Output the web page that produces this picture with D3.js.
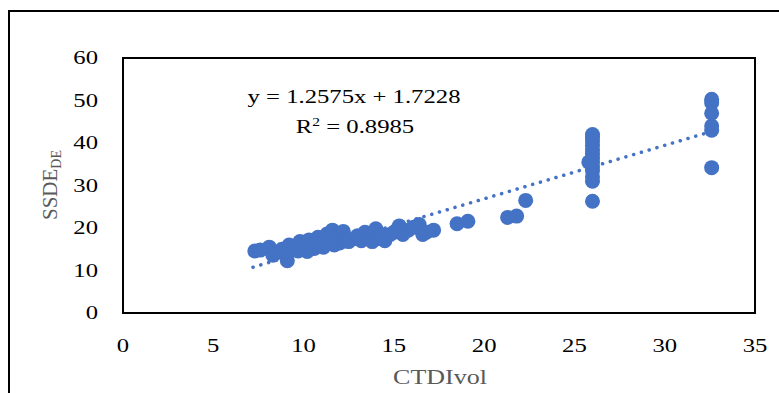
<!DOCTYPE html>
<html>
<head>
<meta charset="utf-8">
<script src="https://cdn.jsdelivr.net/npm/d3@7"></script>
<style>
  body { margin: 0; background: #fff; }
  text { font-family: "Liberation Serif", "DejaVu Serif", serif; }
</style>
</head>
<body>
<div id="chart"></div>
<script>
(function () {
	// data
	var ctdi = [
		7.3, 7.6, 8.1, 8.3, 8.5, 8.8, 9.1, 9.1, 9.2, 9.5, 9.7, 9.8, 10.0, 10.2, 10.3, 10.5,
		10.6, 10.8, 11.0, 11.1, 11.3, 11.4, 11.6, 11.7, 11.9, 12.0, 12.2, 12.3, 12.5, 12.8,
		13.0, 13.2, 13.4, 13.6, 13.8, 14.0, 14.1, 14.3, 14.5, 14.8, 15.0, 15.3, 15.5, 15.8,
		16.1, 16.4, 16.6, 16.8, 17.2,
		18.5, 19.1, 21.3, 21.8, 22.3,
		26.0, 26.0, 26.0, 26.0, 26.0, 26.0, 26.0, 26.0, 26.0, 26.0, 26.0, 26.0, 26.0, 25.8,
		32.6, 32.6, 32.6, 32.6, 32.6, 32.6
	];
	var ssde = [
		14.6, 14.8, 15.5, 13.6, 14.2, 15.0, 12.3, 14.0, 16.0, 15.2, 14.6, 16.8, 15.5, 14.5, 17.2, 16.0,
		15.2, 17.8, 16.3, 15.5, 18.6, 17.0, 19.5, 16.0, 18.0, 16.5, 19.2, 17.2, 16.8, 17.5,
		18.2, 17.0, 19.0, 17.8, 16.8, 19.8, 17.5, 18.5, 17.0, 18.5, 19.0, 20.5, 18.5, 19.5,
		20.2, 20.8, 18.5, 19.0, 19.5,
		21.0, 21.6, 22.5, 22.8, 26.5,
		26.3, 31.0, 32.0, 33.5, 34.5, 35.5, 36.5, 37.5, 38.5, 39.5, 40.5, 41.3, 42.0, 35.5,
		34.2, 43.0, 44.0, 47.0, 49.5, 50.3
	];
	var xTicks = [0, 5, 10, 15, 20, 25, 30, 35];
	var yTicks = [0, 10, 20, 30, 40, 50, 60];
	var slope = 1.2575, intercept = 1.7228, r2 = 0.8985;
	var trendRange = [7.2, 32.6];

	var width = 779, height = 393;
	var blue = '#4472C4';
	var stretch = 1.3; // text in the picture is drawn wide

	var svg = d3.select('#chart').append('svg')
		.attr('width', width).attr('height', height);

	// outer chart frame
	svg.append('rect')
		.attr('x', 9).attr('y', 11)
		.attr('width', 800).attr('height', 400)
		.attr('fill', 'none').attr('stroke', '#000').attr('stroke-width', 2);

	var x = d3.scaleLinear().domain([0, 35]).range([123, 755]);
	var y = d3.scaleLinear().domain([0, 60]).range([313, 58]);

	function wide(sel, cx, cy) {
		return sel.attr('transform', 'translate(' + cx + ',' + cy + ')scale(' + stretch + ',1)');
	}

	// tick labels
	svg.selectAll('.xlab').data(xTicks).enter().append('text')
		.attr('class', 'xlab')
		.attr('text-anchor', 'middle')
		.attr('font-size', 19)
		.attr('fill', '#000')
		.each(function (d) { wide(d3.select(this), x(d), 352); })
		.text(d => d);

	svg.selectAll('.ylab').data(yTicks).enter().append('text')
		.attr('class', 'ylab')
		.attr('text-anchor', 'end')
		.attr('font-size', 19)
		.attr('fill', '#000')
		.each(function (d) { wide(d3.select(this), 98, y(d) + 6); })
		.text(d => d);

	// axis titles
	wide(svg.append('text'), 440, 384)
		.attr('text-anchor', 'middle')
		.attr('font-size', 20)
		.attr('fill', '#595959')
		.text('CTDIvol');

	var yt = svg.append('text')
		.attr('transform', 'translate(57,185)rotate(-90)')
		.attr('text-anchor', 'middle')
		.attr('font-size', 21)
		.attr('fill', '#595959');
	yt.append('tspan').text('SSDE');
	yt.append('tspan').attr('font-size', 14).attr('dy', 4).text('DE');

	// points
	var pts = ctdi.map((v, i) => [v, ssde[i]]);
	svg.append('g').selectAll('circle')
		.data(pts).enter().append('circle')
		.attr('cx', d => x(d[0]))
		.attr('cy', d => y(d[1]))
		.attr('r', 7.5)
		.attr('fill', blue);

	// linear trendline (dotted)
	svg.append('line')
		.attr('x1', x(trendRange[0])).attr('y1', y(slope * trendRange[0] + intercept))
		.attr('x2', x(trendRange[1])).attr('y2', y(slope * trendRange[1] + intercept))
		.attr('stroke', blue)
		.attr('stroke-width', 3.5)
		.attr('stroke-linecap', 'round')
		.attr('stroke-dasharray', '0.1 8');

	// plot area frame
	svg.append('rect')
		.attr('x', 123).attr('y', 58)
		.attr('width', 632).attr('height', 255)
		.attr('fill', 'none').attr('stroke', '#000').attr('stroke-width', 2);

	// equation label
	wide(svg.append('text'), 354, 103)
		.attr('text-anchor', 'middle')
		.attr('font-size', 19)
		.text('y = ' + slope + 'x + ' + intercept);
	var rt = wide(svg.append('text'), 355, 133)
		.attr('text-anchor', 'middle')
		.attr('font-size', 19);
	rt.append('tspan').text('R');
	rt.append('tspan').attr('font-size', 12).attr('dy', -7).text('2');
	rt.append('tspan').attr('dy', 7).text(' = ' + r2);
})();
</script>
</body>
</html>
